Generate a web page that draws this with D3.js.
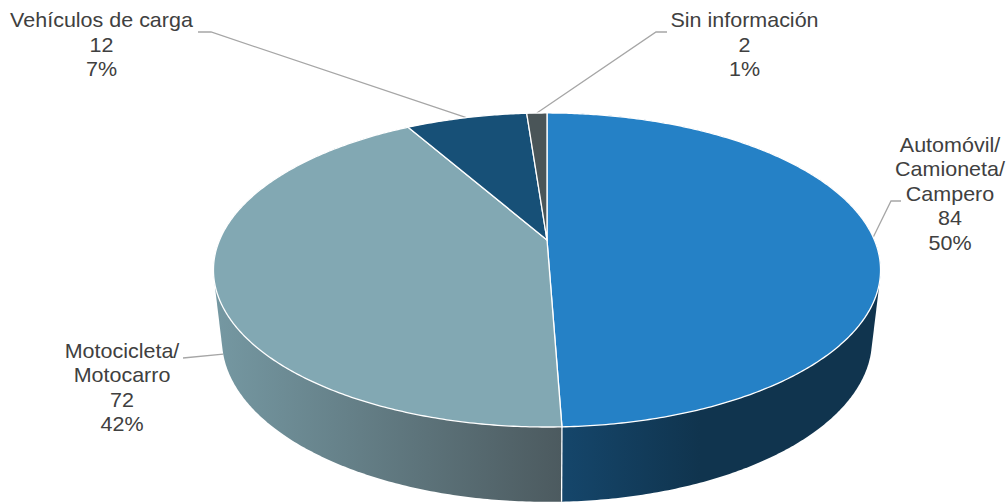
<!DOCTYPE html>
<html>
<head>
<meta charset="utf-8">
<script src="https://cdn.jsdelivr.net/npm/d3@7"></script>
<style>
html, body { margin: 0; padding: 0; background: #fff; overflow: hidden; }
text { font-family: "Liberation Sans", Arial, sans-serif; font-size: 20px; fill: #404040; }
</style>
</head>
<body>
<svg id="pie_svg"></svg>
<script>
var categories = ["Automóvil/ Camioneta/ Campero", "Motocicleta/ Motocarro", "Vehículos de carga", "Sin información"];
var values = [84, 72, 12, 2];
var percents = ["50%", "42%", "7%", "1%"];
var label_lines = [
    ["Automóvil/", "Camioneta/", "Campero"],
    ["Motocicleta/", "Motocarro"],
    ["Vehículos de carga"],
    ["Sin información"]
];

var width = 1006, height = 502;
var colors = ["#2581c6", "#82a8b3", "#175077", "#4a5558"];

// label block centre + first line y, elbow and start of the leader line
var label_pos = [
    {x: 950, y: 151.7, start: [901, 201], elbow: [891, 201], plane: "top"},
    {x: 122, y: 357.5, start: [183, 358], elbow: [183, 358], plane: "bottom"},
    {x: 101.5, y: 27, start: [198, 32], elbow: [211, 32], plane: "top"},
    {x: 744.5, y: 27, start: [667, 32], elbow: [656, 32], plane: "top"}
];

var svg = d3.select("#pie_svg").attr("width", width).attr("height", height)
    .style("display", "block");

// perspective: the pie is a circle seen at an angle, so the centre sits above the ellipse centre
var k = 0.191;
var top_plane = {cx: 547, cy: 240, a: 327.4, b: 151.3};
var bottom_plane = {cx: 547, cy: 309, a: 319, b: 156};

function project(plane, angle) {
    var u = Math.sin(angle), v = -Math.cos(angle);
    var w = 1 / (1 - k * v);
    return [plane.cx + plane.a * u * w, plane.cy + plane.b * v * w];
}

function arcPoints(plane, a0, a1) {
    var n = Math.max(2, Math.ceil((a1 - a0) / 0.01));
    return d3.range(n + 1).map(function(i) {
        return project(plane, a0 + (a1 - a0) * i / n);
    });
}

var pie = d3.pie().sort(null).value(function(d) { return d; });
var arcs = pie(values);
var line = d3.line();

var defs = svg.append("defs");
var g0 = defs.append("linearGradient").attr("id", "wall0")
    .attr("gradientUnits", "userSpaceOnUse")
    .attr("x1", 562).attr("x2", 700).attr("y1", 0).attr("y2", 0);
g0.append("stop").attr("offset", "0").attr("stop-color", "#15466b");
g0.append("stop").attr("offset", "1").attr("stop-color", "#10344e");
var g1 = defs.append("linearGradient").attr("id", "wall1")
    .attr("gradientUnits", "userSpaceOnUse")
    .attr("x1", 215).attr("x2", 562).attr("y1", 0).attr("y2", 0);
g1.append("stop").attr("offset", "0").attr("stop-color", "#7598a2");
g1.append("stop").attr("offset", "1").attr("stop-color", "#4c5a5f");

// leader lines go under the pie
svg.append("g").selectAll("path")
    .data(arcs)
    .enter().append("path")
    .attr("fill", "none")
    .attr("stroke", "#a6a6a6")
    .attr("stroke-width", 1.3)
    .attr("d", function(d, i) {
        var p = label_pos[i];
        var mid = (d.startAngle + d.endAngle) / 2;
        var end = project(p.plane == "top" ? top_plane : bottom_plane, mid);
        return line([p.start, p.elbow, end]);
    });

// side walls, only the two big slices can be seen from the front
svg.append("g").selectAll("path")
    .data(arcs.slice(0, 2))
    .enter().append("path")
    .attr("fill", function(d, i) { return "url(#wall" + i + ")"; })
    .attr("d", function(d) {
        var pts = arcPoints(top_plane, d.startAngle, d.endAngle)
            .concat(arcPoints(bottom_plane, d.startAngle, d.endAngle));
        return line(d3.polygonHull(pts)) + "Z";
    });

// seam between the walls
var seam = arcs[0].endAngle;
svg.append("path")
    .attr("stroke", "#fff")
    .attr("stroke-width", 1.3)
    .attr("d", line([project(top_plane, seam), project(bottom_plane, seam)]));

// top face
svg.append("g").selectAll("path")
    .data(arcs)
    .enter().append("path")
    .attr("fill", function(d, i) { return colors[i]; })
    .attr("stroke", "#fff")
    .attr("stroke-width", 1.3)
    .attr("stroke-linejoin", "round")
    .attr("d", function(d) {
        var pts = arcPoints(top_plane, d.startAngle, d.endAngle);
        pts.unshift([top_plane.cx, top_plane.cy]);
        return line(pts) + "Z";
    });

// labels, the original text is a bit stretched sideways
var line_height = 24.6;
var labels = svg.append("g").selectAll("text")
    .data(categories)
    .enter().append("text")
    .attr("text-anchor", "middle")
    .attr("transform", function(d, i) {
        return "translate(" + label_pos[i].x + "," + label_pos[i].y + ") scale(1.075,1)";
    });

labels.each(function(d, i) {
    var rows = label_lines[i].concat([values[i], percents[i]]);
    d3.select(this).selectAll("tspan")
        .data(rows)
        .enter().append("tspan")
        .attr("x", 0)
        .attr("dy", function(r, j) { return j == 0 ? 0 : line_height; })
        .text(function(r) { return r; });
});
</script>
</body>
</html>
